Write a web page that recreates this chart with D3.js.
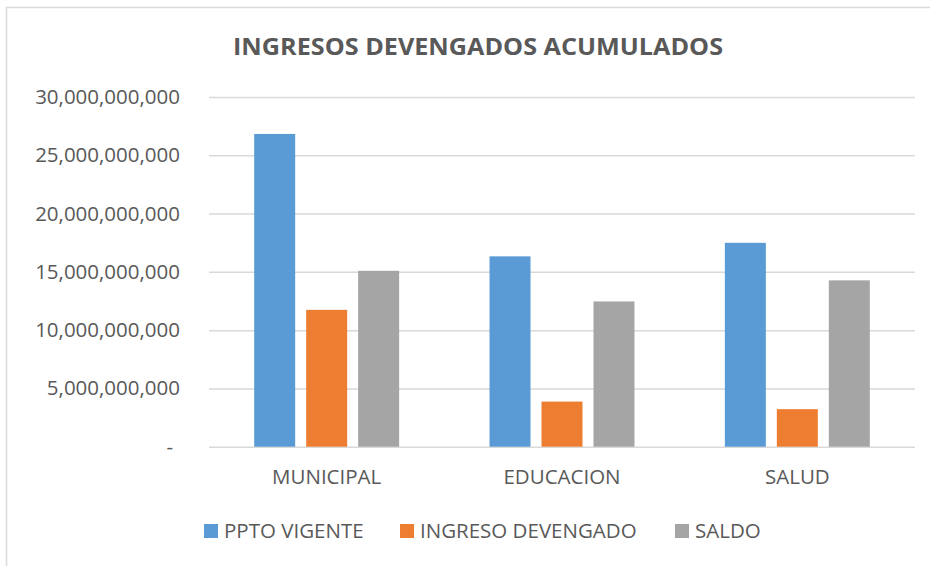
<!DOCTYPE html>
<html>
<head>
<meta charset="utf-8">
<script src="https://cdn.jsdelivr.net/npm/d3@7"></script>
<style>
  html, body { margin: 0; padding: 0; background: #fff; }
  svg { display: block; }
  text { font-family: "Open Sans", "Liberation Sans", sans-serif; fill: #595959; }
</style>
</head>
<body>
<svg id="chart" width="930" height="566"></svg>
<script>
// Accumulated accrued income by area (pesos)
const categories = ["MUNICIPAL", "EDUCACION", "SALUD"];
const seriesNames = ["PPTO VIGENTE", "INGRESO DEVENGADO", "SALDO"];
const pptoVigente = [26830000000, 16330000000, 17490000000];
const ingresoDevengado = [11740000000, 3870000000, 3220000000];
const saldo = [15090000000, 12460000000, 14270000000];
const yTicks = [0, 5000000000, 10000000000, 15000000000, 20000000000, 25000000000, 30000000000];
const colors = ["#5B9BD5", "#ED7D31", "#A5A5A5"];

const seriesValues = [pptoVigente, ingresoDevengado, saldo];
const rows = categories.map((c, i) => ({
  category: c,
  values: seriesNames.map((s, j) => ({ series: s, value: seriesValues[j][i], color: colors[j] }))
}));

const svg = d3.select("#chart");
const W = 930, H = 566;
const plot = { left: 209, right: 915, top: 97, bottom: 446.7 };

// chart frame
svg.append("line").attr("x1", 6).attr("x2", W).attr("y1", 7.5).attr("y2", 7.5)
  .attr("stroke", "#d9d9d9").attr("stroke-width", 1.5);
svg.append("line").attr("x1", 6.5).attr("x2", 6.5).attr("y1", 7).attr("y2", H)
  .attr("stroke", "#d9d9d9").attr("stroke-width", 1.5);

// title
svg.append("text")
  .attr("x", 478).attr("y", 55)
  .attr("text-anchor", "middle")
  .attr("font-size", 23).attr("font-weight", "bold")
  .attr("textLength", 490).attr("lengthAdjust", "spacingAndGlyphs")
  .text("INGRESOS DEVENGADOS ACUMULADOS");

const x0 = d3.scaleBand().domain(categories).range([plot.left, plot.right])
  .paddingInner(0.384).paddingOuter(0.192);
const x1 = d3.scaleBand().domain(seriesNames).range([0, x0.bandwidth()])
  .paddingInner(0.2115).paddingOuter(0);
const y = d3.scaleLinear().domain([0, 30000000000]).range([plot.bottom, plot.top]);

const fmt = v => v === 0 ? "-" : d3.format(",")(v);

// gridlines + y labels
const yAxis = d3.axisLeft(y).tickValues(yTicks).tickFormat(fmt)
  .tickSize(-(plot.right - plot.left)).tickPadding(29);
const gy = svg.append("g").attr("transform", `translate(${plot.left},0)`).call(yAxis);
gy.select(".domain").remove();
gy.selectAll(".tick line").attr("stroke", "#d9d9d9").attr("stroke-width", 1.5);
gy.selectAll(".tick text").attr("font-size", 20.5).attr("fill", "#595959")
  .attr("font-family", "'Open Sans', sans-serif")
  .attr("dx", (d) => d === 0 ? -7 : 0);

// bars
const groups = svg.append("g").selectAll("g").data(rows).join("g")
  .attr("transform", d => `translate(${x0(d.category)},0)`);
groups.selectAll("rect").data(d => d.values).join("rect")
  .attr("x", d => x1(d.series))
  .attr("width", x1.bandwidth())
  .attr("y", d => y(d.value))
  .attr("height", d => y(0) - y(d.value))
  .attr("fill", d => d.color);

// category axis
const xAxis = d3.axisBottom(x0).tickSize(0).tickPadding(23);
const gx = svg.append("g").attr("transform", `translate(0,${plot.bottom})`).call(xAxis);
gx.select(".domain").remove();
gx.selectAll(".tick text").attr("font-size", 20.5).attr("fill", "#595959")
  .attr("font-family", "'Open Sans', sans-serif");

// legend
const legendX = [204, 400, 675];
const legend = svg.append("g").selectAll("g").data(seriesNames).join("g")
  .attr("transform", (d, i) => `translate(${legendX[i]},531)`);
legend.append("rect").attr("x", 0).attr("y", -7).attr("width", 14).attr("height", 14)
  .attr("fill", (d, i) => colors[i]);
legend.append("text").attr("x", 20).attr("y", 0).attr("dy", "0.35em")
  .attr("font-size", 20.5).text(d => d);
</script>
</body>
</html>
